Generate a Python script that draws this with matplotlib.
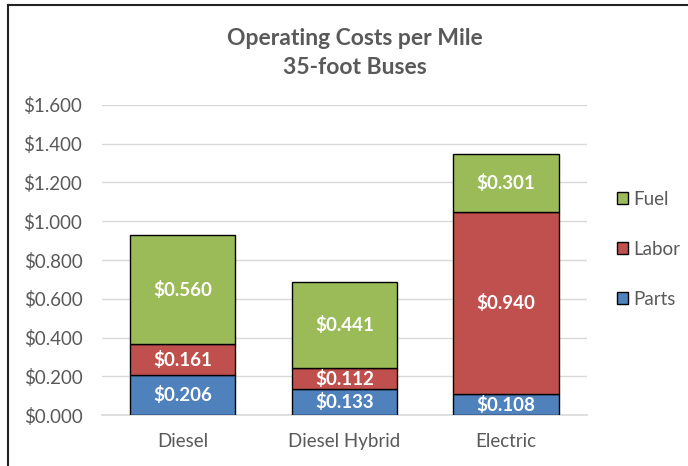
import numpy as np
import matplotlib.pyplot as plt
from matplotlib.lines import Line2D

categories = ['Diesel', 'Diesel Hybrid', 'Electric']
parts = [0.206, 0.133, 0.108]
labor = [0.161, 0.112, 0.940]
fuel = [0.560, 0.441, 0.301]
yticks = [0.0, 0.2, 0.4, 0.6, 0.8, 1.0, 1.2, 1.4, 1.6]

plt.rcParams['font.family'] = ['Lato', 'DejaVu Sans']

fig = plt.figure(figsize=(6.88, 4.66), dpi=100)
ax = fig.add_axes([0.148, 0.109, 0.705, 0.666])

x = np.arange(len(categories))
w = 0.65
series = [('Parts', parts, '#4F81BD'), ('Labor', labor, '#C0504D'), ('Fuel', fuel, '#9BBB59')]
bottom = np.zeros(len(categories))
handles = {}
for name, vals, col in series:
    b = ax.bar(x, vals, w, bottom=bottom, color=col, edgecolor='black', linewidth=1, zorder=3, label=name)
    handles[name] = b
    for xi, v, bt in zip(x, vals, bottom):
        ax.text(xi, bt + v / 2, '$%.3f' % v, ha='center', va='center', color='white',
                fontsize=13.5, fontweight='bold', zorder=4)
    bottom = bottom + np.array(vals)

ax.set_ylim(0, 1.6)
ax.set_xlim(-0.5, 2.5)
ax.set_yticks(yticks)
ax.set_yticklabels(['$%.3f' % t for t in yticks], fontsize=13.5, color='#595959')
ax.set_xticks(x)
ax.set_xticklabels(categories, fontsize=13.5, color='#595959')
ax.tick_params(length=0)
ax.tick_params(axis='x', pad=13)
ax.tick_params(axis='y', pad=14)
ax.grid(axis='y', color='#D9D9D9', linewidth=1, zorder=0)
for s in ['top', 'right', 'left']:
    ax.spines[s].set_visible(False)
ax.spines['bottom'].set_color('#D9D9D9')
ax.spines['bottom'].set_linewidth(1.2)

fig.text(0.516, 0.886, 'Operating Costs per Mile\n35-foot Buses', ha='center', va='center',
         fontsize=16.5, fontweight='bold', color='#595959', linespacing=1.45)

order = ['Fuel', 'Labor', 'Parts']
leg = fig.legend([handles[n] for n in order], order, loc='center left',
                 bbox_to_anchor=(0.886, 0.465), frameon=False, fontsize=13.5,
                 handlelength=0.6, handleheight=0.6, handletextpad=0.25,
                 borderpad=0.2, borderaxespad=0.2,
                 labelspacing=1.75, labelcolor='#595959')

# chart border (left and top visible)
fig.add_artist(Line2D([8 / 688, 8 / 688], [0, 1 - 5 / 466], transform=fig.transFigure, color='#222222', lw=1.5))
fig.add_artist(Line2D([8 / 688, 1], [1 - 5 / 466, 1 - 5 / 466], transform=fig.transFigure, color='#222222', lw=1.5))

fig.savefig('out.png', dpi=100)
